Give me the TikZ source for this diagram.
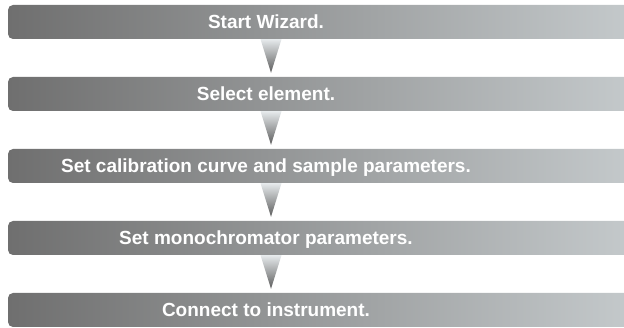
\documentclass[tikz,border=0pt]{standalone}
\usepackage{fontspec}
\setmainfont{Liberation Sans}
\usetikzlibrary{calc}

\definecolor{barleft}{HTML}{6F6F6F}
\definecolor{barright}{HTML}{C4C9CB}
\definecolor{arrowtop}{HTML}{E6EAEC}
\definecolor{arrowbot}{HTML}{5C5C5C}

\tikzset{
  bar/.style={rounded corners=5pt, left color=barleft, right color=barright,
    minimum width=622pt, minimum height=34pt, inner sep=0pt},
  steptext/.style={text=white, font=\bfseries\fontsize{19}{22}\selectfont,
    text height=13.6pt, text depth=0pt, inner sep=0pt},
  funnel/.style={top color=arrowtop, bottom color=arrowbot},
}

\begin{document}
\begin{tikzpicture}[x=1pt,y=-1pt]
  \useasboundingbox (0,0) rectangle (624,328);

  \coordinate (tx) at (266,0);
  \coordinate (ax) at (271,0);

  \node[bar] (b1) at (319,22) {};
  \node[bar] (b2) at (319,94) {};
  \node[bar] (b3) at (319,166) {};
  \node[bar] (b4) at (319,238) {};
  \node[bar] (b5) at (319,310) {};

  \node[steptext] (t1) at (b1.center -| tx) {Start Wizard.};
  \node[steptext] (t2) at (b2.center -| tx) {Select element.};
  \node[steptext] (t3) at (b3.center -| tx) {Set calibration curve and sample parameters.};
  \node[steptext] (t4) at (b4.center -| tx) {Set monochromator parameters.};
  \node[steptext] (t5) at (b5.center -| tx) {Connect to instrument.};

  % arrows between the steps
  \shade[funnel] ($(b1.south -| ax)+(-10.5,0)$) -- ($(b1.south -| ax)+(10.5,0)$) -- ($(b2.north -| ax)+(0,-4)$) -- cycle;
  \shade[funnel] ($(b2.south -| ax)+(-10.5,0)$) -- ($(b2.south -| ax)+(10.5,0)$) -- ($(b3.north -| ax)+(0,-4)$) -- cycle;
  \shade[funnel] ($(b3.south -| ax)+(-10.5,0)$) -- ($(b3.south -| ax)+(10.5,0)$) -- ($(b4.north -| ax)+(0,-4)$) -- cycle;
  \shade[funnel] ($(b4.south -| ax)+(-10.5,0)$) -- ($(b4.south -| ax)+(10.5,0)$) -- ($(b5.north -| ax)+(0,-4)$) -- cycle;
\end{tikzpicture}
\end{document}
